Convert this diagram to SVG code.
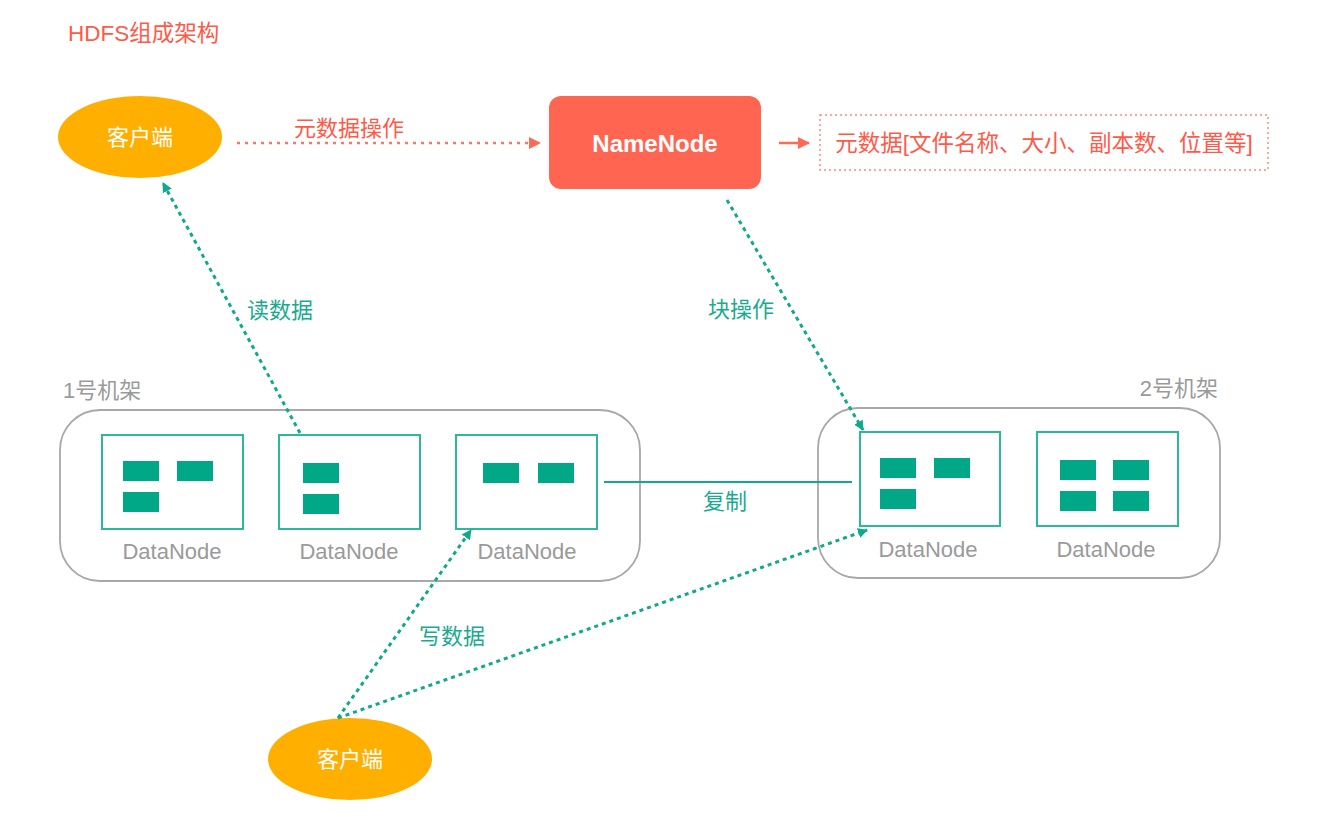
<svg xmlns="http://www.w3.org/2000/svg" width="1325" height="838" viewBox="0 0 1325 838">
<defs>
<style>
text{font-family:"Liberation Sans","Noto Sans CJK SC",sans-serif;}
.red{fill:#ff5a48;}
.teal{fill:#1aaa90;}
.gray{fill:#9a9a9a;}
.dn{fill:#fff;stroke:#2bb89b;stroke-width:2;}
.blk{fill:#00a888;}
.rack{fill:none;stroke:#a8a8a8;stroke-width:1.8;}
.tdash{fill:none;stroke:#11a98b;stroke-width:3;stroke-dasharray:4 4;}
.rdash{fill:none;stroke:#ff7565;stroke-width:2.5;stroke-dasharray:3 5;}
</style>
<marker id="ta" markerWidth="10" markerHeight="10" refX="9" refY="5" orient="auto" markerUnits="userSpaceOnUse">
<path d="M0,0 L10,5 L0,10 z" fill="#11a98b"/>
</marker>
<marker id="ra" markerWidth="12" markerHeight="12" refX="11" refY="6" orient="auto" markerUnits="userSpaceOnUse">
<path d="M0,0 L12,6 L0,12 z" fill="#ff6a57"/>
</marker>
</defs>
<rect width="1325" height="838" fill="#fff"/>
<text x="68" y="41" class="red" font-size="22.5">HDFS组成架构</text>

<g id="client-top">
<ellipse cx="140" cy="137" rx="82" ry="41" fill="#ffaf00"/>
<text x="140" y="145" font-size="22" fill="#fff" text-anchor="middle">客户端</text>
</g>

<g id="namenode">
<rect x="549" y="96" width="212" height="93" rx="12" fill="#ff6550"/>
<text x="655" y="152" font-size="24" fill="#fff" text-anchor="middle" font-weight="bold">NameNode</text>
</g>

<g id="metadata">
<rect x="820" y="115" width="448" height="55" fill="none" stroke="#ff8a7c" stroke-width="1.5" stroke-dasharray="2 3"/>
<text x="1044" y="151" font-size="22.5" class="red" text-anchor="middle">元数据[文件名称、大小、副本数、位置等]</text>
</g>

<g id="rack1">
<text x="63" y="398" font-size="22" class="gray">1号机架</text>
<rect class="rack" x="60" y="410" width="580" height="171" rx="40"/>
</g>
<g id="dn1">
<rect class="dn" x="102" y="435" width="141" height="94"/>
<rect class="blk" x="123" y="461" width="36" height="20"/>
<rect class="blk" x="177" y="461" width="36" height="20"/>
<rect class="blk" x="123" y="492" width="36" height="20"/>
<text x="172" y="559" font-size="22" class="gray" text-anchor="middle">DataNode</text>
</g>
<g id="dn2">
<rect class="dn" x="279" y="435" width="141" height="94"/>
<rect class="blk" x="303" y="463" width="36" height="20"/>
<rect class="blk" x="303" y="494" width="36" height="20"/>
<text x="349" y="559" font-size="22" class="gray" text-anchor="middle">DataNode</text>
</g>
<g id="dn3">
<rect class="dn" x="456" y="435" width="141" height="94"/>
<rect class="blk" x="483" y="463" width="36" height="20"/>
<rect class="blk" x="538" y="463" width="36" height="20"/>
<text x="527" y="559" font-size="22" class="gray" text-anchor="middle">DataNode</text>
</g>

<g id="rack2">
<text x="1218" y="396" font-size="22" class="gray" text-anchor="end">2号机架</text>
<rect class="rack" x="818" y="408" width="402" height="170" rx="40"/>
</g>
<g id="dn4">
<rect class="dn" x="860" y="432" width="140" height="94"/>
<rect class="blk" x="880" y="458" width="36" height="20"/>
<rect class="blk" x="934" y="458" width="36" height="20"/>
<rect class="blk" x="880" y="489" width="36" height="20"/>
<text x="928" y="557" font-size="22" class="gray" text-anchor="middle">DataNode</text>
</g>
<g id="dn5">
<rect class="dn" x="1037" y="432" width="141" height="94"/>
<rect class="blk" x="1060" y="460" width="36" height="20"/>
<rect class="blk" x="1113" y="460" width="36" height="20"/>
<rect class="blk" x="1060" y="491" width="36" height="20"/>
<rect class="blk" x="1113" y="491" width="36" height="20"/>
<text x="1106" y="557" font-size="22" class="gray" text-anchor="middle">DataNode</text>
</g>

<g id="client-bottom">
<ellipse cx="350" cy="759" rx="82" ry="41" fill="#ffaf00"/>
<text x="350" y="767" font-size="22" fill="#fff" text-anchor="middle">客户端</text>
</g>

<g id="connectors">
<line class="rdash" x1="237" y1="143" x2="540" y2="143" marker-end="url(#ra)"/>
<text x="349" y="136" font-size="22" class="red" text-anchor="middle">元数据操作</text>
<line x1="779" y1="143" x2="809" y2="143" stroke="#ff6a57" stroke-width="2.5" marker-end="url(#ra)"/>
<line class="tdash" x1="300" y1="433" x2="163" y2="183" marker-end="url(#ta)"/>
<text x="280" y="318" font-size="22" class="teal" text-anchor="middle">读数据</text>
<line class="tdash" x1="727" y1="200" x2="863" y2="430" marker-end="url(#ta)"/>
<text x="741" y="317" font-size="22" class="teal" text-anchor="middle">块操作</text>
<line x1="604" y1="482" x2="852" y2="482" stroke="#11a98b" stroke-width="2"/>
<text x="725" y="509" font-size="22" class="teal" text-anchor="middle">复制</text>
<line class="tdash" x1="338" y1="718" x2="471" y2="530" marker-end="url(#ta)"/>
<line class="tdash" x1="338" y1="718" x2="867" y2="530" marker-end="url(#ta)"/>
<text x="452" y="644" font-size="22" class="teal" text-anchor="middle">写数据</text>
</g>
</svg>
